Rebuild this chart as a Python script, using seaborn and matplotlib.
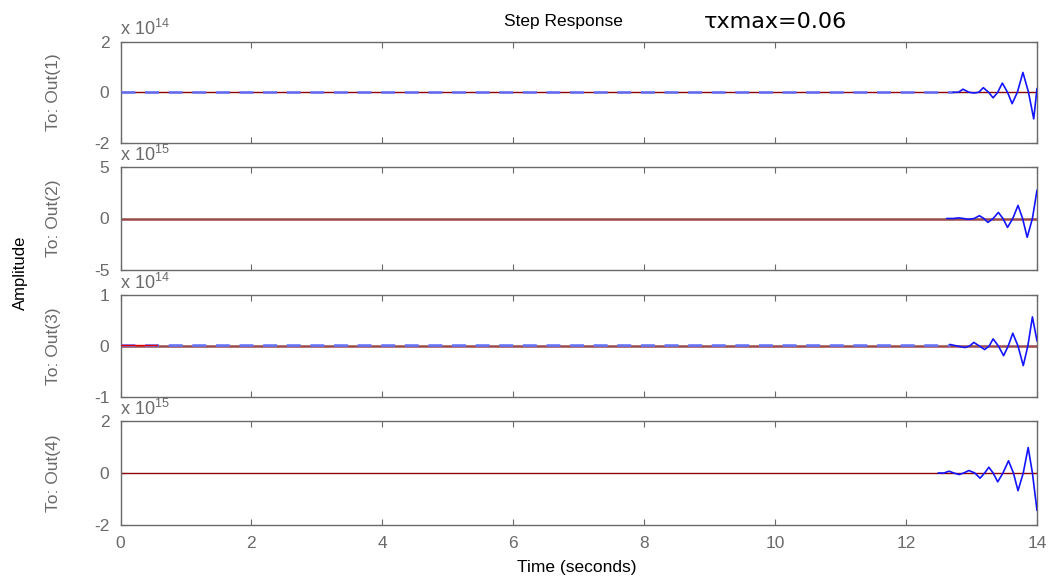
import numpy as np
import pandas as pd
import matplotlib
matplotlib.use("Agg")
import matplotlib.pyplot as plt
import seaborn as sns

# ---------------- data (values in units of the panel's 10^N factor) ----------------
out_labels = ["To: Out(1)", "To: Out(2)", "To: Out(3)", "To: Out(4)"]
exponents = [14, 15, 14, 15]
y_limits = [2, 5, 1, 2]
x_ticks = [0, 2, 4, 6, 8, 10, 12, 14]

t1 = [12.72, 12.80, 12.87, 12.96, 13.04, 13.11, 13.18, 13.26, 13.33, 13.40, 13.47,
      13.55, 13.62, 13.70, 13.785, 13.87, 13.95, 14.0]
y1 = [0, 0, 0.12, 0, -0.03, 0, 0.18, 0, -0.22, 0, 0.36, 0, -0.45, 0, 0.78, 0, -1.05, 0.15]

t2 = [12.62, 12.72, 12.80, 12.88, 12.95, 13.04, 13.12, 13.19, 13.25, 13.33, 13.41,
      13.48, 13.55, 13.63, 13.71, 13.78, 13.85, 13.93, 14.0]
y2 = [0, 0, 0.06, 0, -0.08, 0, 0.27, 0, -0.38, 0, 0.59, 0, -0.86, 0, 1.27, 0, -1.83, 0, 2.75]

t3 = [12.67, 12.78, 12.90, 12.97, 13.035, 13.12, 13.20, 13.27, 13.33, 13.41, 13.49,
      13.56, 13.63, 13.71, 13.79, 13.86, 13.93, 14.0]
y3 = [0.03, 0, -0.03, 0, 0.07, 0, -0.07, 0, 0.14, 0, -0.19, 0, 0.25, 0, -0.385, 0, 0.57, 0.1]

t4 = [12.49, 12.58, 12.655, 12.73, 12.81, 12.88, 12.96, 13.05, 13.13, 13.20, 13.265,
      13.33, 13.40, 13.48, 13.565, 13.64, 13.71, 13.79, 13.865, 13.93, 14.0]
y4 = [0, 0, 0.07, 0, -0.06, 0, 0.095, 0, -0.2, 0, 0.22, 0, -0.34, 0, 0.47, 0, -0.68, 0,
      0.98, 0, -1.44]

wave_t = [t1, t2, t3, t4]
wave_y = [y1, y2, y3, y4]

# dashed (early, near-zero) part of the blue response, panels 1 and 3
dash_t = [[0, 12.72], None, [0, 12.67], None]
dash_y = [[0.02, 0.02], None, [0.01, 0.01], None]

# red reference response (zero line), and small red offset at the start of panel 3
red_t = [0, 14]
red_y = [0, 0]
red3_t = [0, 0.55]
red3_y = [0.02, 0.02]

# ---------------- style ----------------
sns.set_theme(style="white")
plt.rcParams["font.family"] = ["Liberation Sans", "DejaVu Sans"]
plt.rcParams["mathtext.fontset"] = "custom"
plt.rcParams["mathtext.rm"] = "Liberation Sans"

GRAY = "#6a6a6a"
BLUE = "#1414ff"
DASH_BLUE = "#6474ff"
DARKRED = "#8b0000"

fig = plt.figure(figsize=(10.53, 5.80), dpi=100)
left, width = 120.5 / 1053, 916.5 / 1053
rows = [(41.5, 143), (167, 270), (295, 397), (421, 525)]

axes = []
for i, (top, bot) in enumerate(rows):
    ax = fig.add_axes([left, 1 - bot / 580, width, (bot - top) / 580])
    axes.append(ax)
    lim = y_limits[i]

    red_color = DARKRED if i in (0, 3) else "#9a4a4a"
    red_lw = 1.0 if i in (0, 3) else 1.8
    df_r = pd.DataFrame({"t": red_t, "y": red_y})
    sns.lineplot(data=df_r, x="t", y="y", ax=ax, color=red_color, lw=red_lw,
                 estimator=None, sort=False, zorder=2)
    if dash_t[i] is not None:
        df_d = pd.DataFrame({"t": dash_t[i], "y": dash_y[i]})
        sns.lineplot(data=df_d, x="t", y="y", ax=ax, color=DASH_BLUE, lw=2.0,
                     linestyle=(0, (5, 3.5)), estimator=None, sort=False, zorder=3,
                     alpha=0.9)
    if i == 2:
        df_r3 = pd.DataFrame({"t": red3_t, "y": red3_y})
        sns.lineplot(data=df_r3, x="t", y="y", ax=ax, color="#e00000", lw=1.0,
                     estimator=None, sort=False, zorder=4)
    df_w = pd.DataFrame({"t": wave_t[i], "y": wave_y[i]})
    sns.lineplot(data=df_w, x="t", y="y", ax=ax, color=BLUE, lw=1.2,
                 estimator=None, sort=False, zorder=5)

    ax.set_xlim(0, 14)
    ax.set_ylim(-lim, lim)
    ax.set_yticks([-lim, 0, lim])
    ax.set_yticklabels([str(-lim), "0", str(lim)])
    ax.set_xticks(x_ticks)
    ax.tick_params(direction="in", top=True, right=True, left=True, bottom=True,
                   length=4, width=0.8, color=GRAY, labelcolor=GRAY,
                   labelsize=12.5, pad=8)
    if i < 3:
        ax.set_xticklabels([])
    else:
        ax.set_xticklabels([str(v) for v in x_ticks])
    ax.set_xlabel("")
    ax.set_ylabel(out_labels[i], color=GRAY, fontsize=12.5)
    ax.yaxis.set_label_coords(-0.065, 0.5)
    for sp in ax.spines.values():
        sp.set_color(GRAY)
        sp.set_linewidth(1.0)
        sp.set_visible(True)
    ax.text(0.0, 1.02, "x 10$^{%d}$" % exponents[i], transform=ax.transAxes,
            color=GRAY, fontsize=13, ha="left", va="bottom")

fig.text(0.535, 0.963, "Step Response", ha="center", va="center",
         fontsize=12.5, color="black")
fig.text(0.736, 0.962, "τxmax=0.06", ha="center", va="center",
         fontsize=16, color="black", family=["DejaVu Sans"])
fig.text(0.548, 0.021, "Time (seconds)", ha="center", va="center",
         fontsize=12.5, color="black")
fig.text(0.019, 0.53, "Amplitude", ha="center", va="center", rotation=90,
         fontsize=12, color="black")

fig.savefig("out.png", dpi=100)
